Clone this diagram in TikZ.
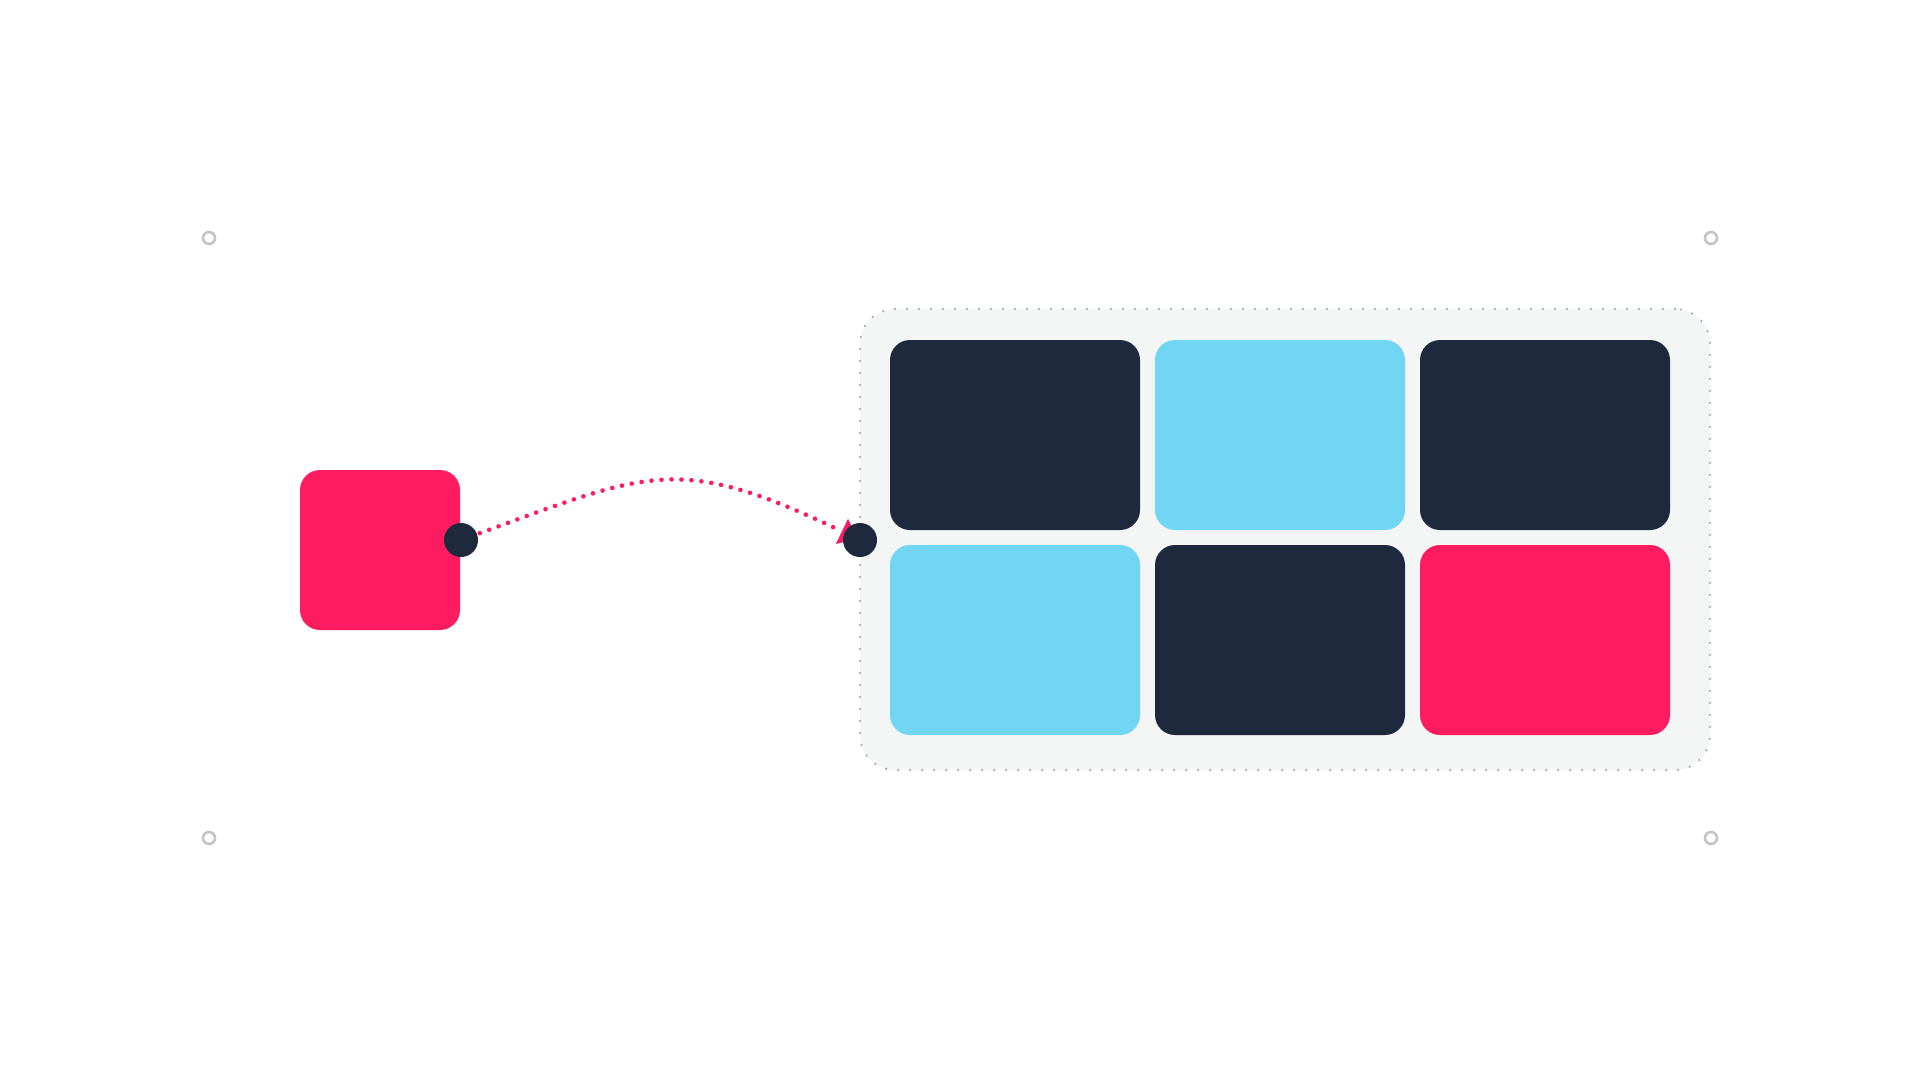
\documentclass[tikz,border=0pt]{standalone}
\usetikzlibrary{arrows.meta}
\definecolor{pinkc}{HTML}{FF1B5F}
\definecolor{navy}{HTML}{1E293D}
\definecolor{sky}{HTML}{70D6F4}
\definecolor{panel}{HTML}{F4F6F6}
\definecolor{paneldot}{HTML}{A9AEB3}
\definecolor{ringc}{HTML}{C3C4C8}
\tikzset{
  cell/.style={rectangle, rounded corners=20pt, minimum width=250pt, minimum height=190pt, inner sep=0pt},
  darkcell/.style={cell, fill=navy},
  skycell/.style={cell, fill=sky},
  pinkcell/.style={cell, fill=pinkc},
  panelbox/.style={rectangle, rounded corners=35pt, minimum width=850pt, minimum height=461pt, inner sep=0pt,
    fill=panel, draw=paneldot, line width=2.6pt, line cap=round, dash pattern=on 0pt off 12pt},
  portdot/.style={circle, fill=navy, minimum size=34pt, inner sep=0pt},
  ring/.style={circle, draw=ringc, line width=2.6pt, minimum size=12pt, inner sep=0pt},
  flow/.style={draw=pinkc, line width=4.6pt, line cap=round, dash pattern=on 0pt off 10pt,
    -{Triangle[length=17pt,width=28pt,fill=pinkc,line width=0pt]}, shorten >=3pt}
}
\begin{document}
\begin{tikzpicture}[x=1pt,y=-1pt]
\useasboundingbox[fill=white] (0,0) rectangle (1920,1080);
% corner marks
\node[ring] (c1) at (209,238) {};
\node[ring] (c2) at (1711,238) {};
\node[ring] (c3) at (209,838) {};
\node[ring] (c4) at (1711,838) {};
% source square
\node[rectangle, rounded corners=20pt, minimum width=160pt, minimum height=160pt, inner sep=0pt, fill=pinkc] (src) at (380,550) {};
% panel
\node[panelbox] (panel) at (1285,539.5) {};
\node[darkcell] (b11) at (1015,435) {};
\node[skycell]  (b12) at (1280,435) {};
\node[darkcell] (b13) at (1545,435) {};
\node[skycell]  (b21) at (1015,640) {};
\node[darkcell] (b22) at (1280,640) {};
\node[pinkcell] (b23) at (1545,640) {};
% connector
\coordinate (s) at (461,540);
\coordinate (t) at (860,540);
\path[flow] (s) .. controls (647,473) and (673,450) .. (t);
\node[portdot] (sdot) at (s) {};
\node[portdot] (tdot) at (t) {};
\end{tikzpicture}
\end{document}
